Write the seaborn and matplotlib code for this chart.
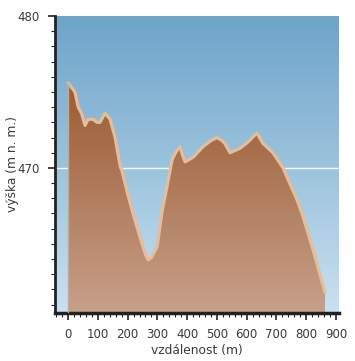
import numpy as np
import pandas as pd
import matplotlib
matplotlib.use("Agg")
import matplotlib.pyplot as plt
from matplotlib.ticker import MultipleLocator
from matplotlib.colors import LinearSegmentedColormap
import seaborn as sns

distance = [0, 23, 34, 45, 57, 67, 84, 97, 107, 124, 141, 158, 175, 181, 200, 218, 242,
            260, 269, 280, 299, 316, 332, 349, 353, 364, 376, 385, 393, 420, 453, 480,
            500, 517, 527, 544, 578, 604, 634, 655, 661, 688, 722, 769, 789, 823, 843, 863]
elevation = [475.6, 475.0, 474.0, 473.6, 472.8, 473.2, 473.2, 473.0, 473.0, 473.6, 473.2,
             472.0, 470.1, 469.8, 468.3, 467.0, 465.4, 464.3, 463.95, 464.1, 464.8, 467.2,
             468.75, 470.5, 470.7, 471.1, 471.4, 470.8, 470.4, 470.7, 471.4, 471.8,
             472.0, 471.8, 471.6, 471.0, 471.3, 471.7, 472.3, 471.6, 471.5, 471.0, 470.0,
             467.9, 466.8, 464.6, 463.2, 461.8]

x_ticks = [0, 100, 200, 300, 400, 500, 600, 700, 800, 900]
y_ticks = [470, 480]
x_label = "vzdálenost (m)"
y_label = "výška (m n. m.)"

df = pd.DataFrame({"d": distance, "h": elevation})

sns.set_style("white")
plt.rcParams["font.family"] = ["DejaVu Sans"]

fig = plt.figure(figsize=(3.55, 3.61), dpi=100)
ax = fig.add_axes([55/355, (361-313)/361, (339-55)/355, (313-16)/361])

xmin, xmax = -44, 910
ymin, ymax = 460.45, 480.0
ax.set_xlim(xmin, xmax)
ax.set_ylim(ymin, ymax)

# background gradient
bg = LinearSegmentedColormap.from_list("bg", ["#c9e1f0", "#6ea4c9"])
grad = np.linspace(0, 1, 256).reshape(-1, 1)
ax.imshow(grad, aspect="auto", cmap=bg, origin="lower",
          extent=[xmin, xmax, ymin, ymax], zorder=0)

# white reference line
ax.axhline(470, color="#f4f8fb", lw=1.0, zorder=1)

# area with gradient fill
poly = ax.fill_between(df["d"], df["h"], ymin, color="none", lw=0, zorder=2)
fg = LinearSegmentedColormap.from_list("fg", ["#c7a08a", "#9c5b33"])
ymax_fill = max(elevation)
im = ax.imshow(grad, aspect="auto", cmap=fg, origin="lower",
               extent=[xmin, xmax, ymin, ymax_fill], zorder=2)
im.set_clip_path(poly.get_paths()[0], transform=ax.transData)

# outline of the profile
sns.lineplot(data=df, x="d", y="h", ax=ax, color="#e2be9c", lw=2.3, zorder=3,
             sort=False)
ax.plot([distance[0], distance[0]], [ymin, elevation[0]], color="#c9a88f", lw=1, zorder=3)

ax.set_xticks(x_ticks)
ax.set_yticks(y_ticks)
ax.xaxis.set_minor_locator(MultipleLocator(20))
ax.yaxis.set_minor_locator(MultipleLocator(1))
ax.tick_params(axis="both", which="major", direction="out", length=5, width=1.2,
               color="#222222", labelsize=8.5, labelcolor="#3a3a3a", pad=6)
ax.tick_params(axis="both", which="minor", direction="out", length=3, width=0.8,
               color="#222222")
ax.tick_params(axis="both", bottom=True, left=True, which="both")

ax.set_xlabel(x_label, fontsize=8.8, color="#3a3a3a")
ax.set_ylabel(y_label, fontsize=8.8, color="#3a3a3a")
ax.yaxis.set_label_coords(-0.125, 0.5)
ax.xaxis.set_label_coords(0.5, -0.105)

for s in ["top", "right"]:
    ax.spines[s].set_visible(False)
ax.spines["left"].set_color("#222222")
ax.spines["left"].set_linewidth(2)
ax.spines["bottom"].set_color("#222222")
ax.spines["bottom"].set_linewidth(2.5)

fig.savefig("out.png", dpi=100)
